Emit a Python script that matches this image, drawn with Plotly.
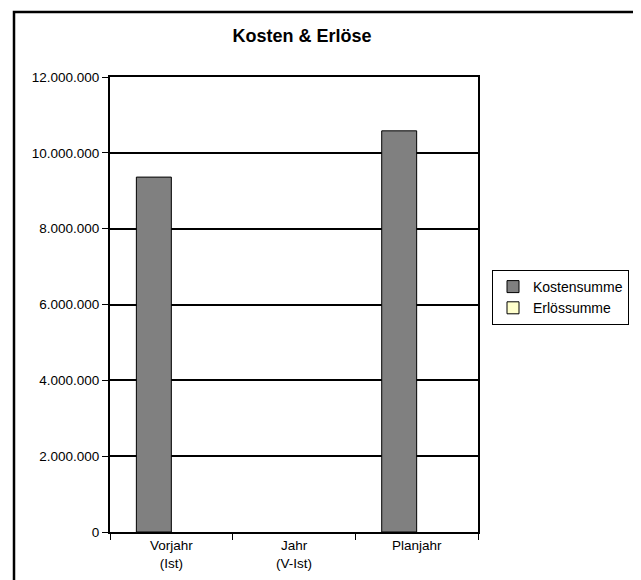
import plotly.graph_objects as go

categories = ["Vorjahr<br>(Ist)", "Jahr<br>(V-Ist)", "Planjahr"]
kostensumme = [9360000, None, 10580000]
erloessumme = [None, None, None]
y_ticks = [0, 2000000, 4000000, 6000000, 8000000, 10000000, 12000000]
y_ticklabels = ["0", "2.000.000", "4.000.000", "6.000.000", "8.000.000", "10.000.000", "12.000.000"]

FONT = "Liberation Sans, Arial, sans-serif"

fig = go.Figure()
fig.add_trace(go.Bar(x=categories, y=kostensumme, name="Kostensumme",
                     marker=dict(color="#808080", line=dict(color="black", width=1))))
fig.add_trace(go.Bar(x=categories, y=erloessumme, name="Erlössumme",
                     marker=dict(color="#FFFFCC", line=dict(color="black", width=1))))

L, R, T, B = 102, 171, 69, 56
W, H = 641, 580
pw, ph = W - L - R, H - T - B

def px_x(p):
    return (p - L) / pw

def px_y(p):
    return (H - B - p) / ph

fig.update_layout(
    width=W, height=H,
    margin=dict(l=L, r=R, t=T, b=B, autoexpand=False),
    paper_bgcolor="white", plot_bgcolor="white",
    font=dict(family=FONT, color="black", size=13.5),
    barmode="group", bargap=0.43, bargroupgap=0,
    title=dict(text="<b>Kosten & Erlöse</b>", font=dict(size=18, family=FONT, color="black"),
               x=294 / W, xanchor="center", xref="container",
               y=1 - 28 / H, yanchor="middle", yref="container"),
    xaxis=dict(type="category", showline=True, linecolor="black", linewidth=2, mirror=True,
               ticks="outside", tickson="boundaries", ticklen=6, tickcolor="black", tickwidth=1,
               showgrid=False, tickfont=dict(size=13.5, family=FONT)),
    yaxis=dict(range=[0, 12000000], tickvals=y_ticks, ticktext=y_ticklabels,
               showline=True, linecolor="black", linewidth=2, mirror=True,
               ticks="outside", ticklen=6, tickcolor="black", tickwidth=1,
               showgrid=True, gridcolor="black", gridwidth=2, zeroline=False,
               tickfont=dict(size=13.5, family=FONT)),
    legend=dict(x=px_x(484), y=px_y(262), xanchor="left", yanchor="top",
                bordercolor="black", borderwidth=1, bgcolor="white",
                font=dict(size=14, family=FONT), tracegroupgap=0,
                itemwidth=30, traceorder="normal"),
    showlegend=True,
    shapes=[dict(type="rect", xref="paper", yref="paper",
                 x0=px_x(6), x1=px_x(720), y0=px_y(660), y1=px_y(4),
                 line=dict(color="black", width=2.5), fillcolor="rgba(0,0,0,0)", layer="below")],
)

fig.write_html("out.html")
